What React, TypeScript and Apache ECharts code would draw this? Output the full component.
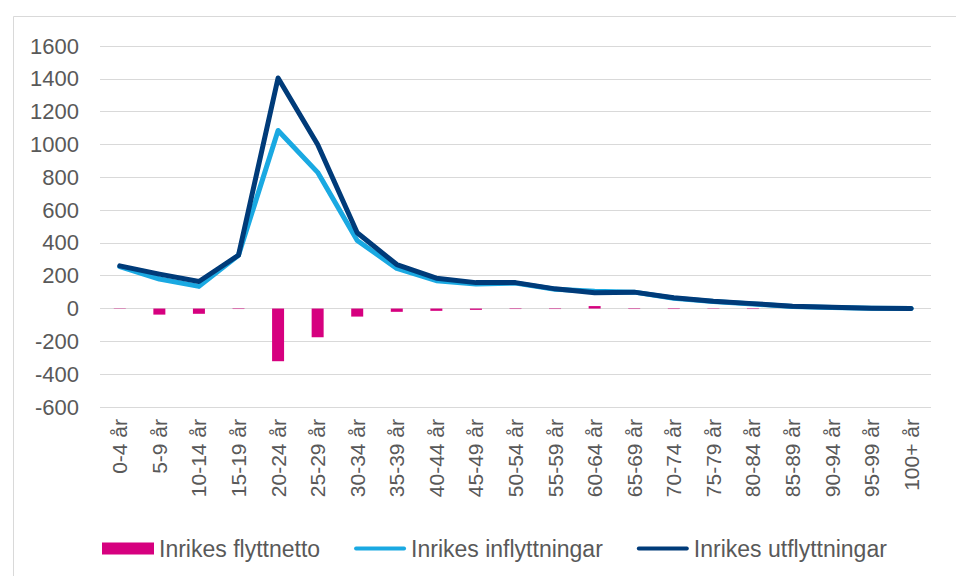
import React, { useEffect, useRef } from "react";
import * as echarts from "echarts";

const categories = [
  "0-4 år", "5-9 år", "10-14 år", "15-19 år", "20-24 år", "25-29 år", "30-34 år",
  "35-39 år", "40-44 år", "45-49 år", "50-54 år", "55-59 år", "60-64 år", "65-69 år",
  "70-74 år", "75-79 år", "80-84 år", "85-89 år", "90-94 år", "95-99 år", "100+ år",
];
const flyttnetto = [-2, -37, -32, -3, -321, -175, -49, -20, -14, -8, -3, -3, 15, -3, -3, -2, -3, 0, 0, 0, 0];
const inflyttningar = [255, 180, 135, 325, 1085, 830, 415, 245, 170, 150, 155, 118, 105, 100, 63, 43, 28, 13, 7, 2, 0];
const utflyttningar = [260, 210, 165, 325, 1405, 1000, 462, 268, 185, 158, 158, 120, 96, 100, 66, 45, 30, 14, 8, 2, 0];
const yTicks = { min: -600, max: 1600, interval: 200 };

const FONT = "'Liberation Sans', Arial, sans-serif";
const TEXT = "#595959";
const LINE_ICON = "path://M2,0 L52,0 A2,2 0 0 1 52,4 L2,4 A2,2 0 0 1 2,0 Z";

export default function App() {
  const ref = useRef<HTMLDivElement>(null);
  useEffect(() => {
    if (!ref.current) return;
    const chart = echarts.init(ref.current, null, { renderer: "svg" });
    chart.setOption({
      animation: false,
      backgroundColor: "#ffffff",
      textStyle: { fontFamily: FONT },
      graphic: [
        {
          type: "rect",
          shape: { x: 13.5, y: 16.5, width: 1000, height: 1000 },
          style: { fill: "none", stroke: "#d9d9d9", lineWidth: 1 },
          silent: true,
        },
      ],
      grid: { left: 100, right: 25, top: 46, bottom: 169, containLabel: false },
      legend: {
        left: 97,
        top: 532,
        itemWidth: 52,
        itemHeight: 12,
        itemGap: 34,
        symbolKeepAspect: true,
        textStyle: { color: TEXT, fontSize: 23, fontFamily: FONT },
        data: [
          { name: "Inrikes flyttnetto", icon: "rect" },
          { name: "Inrikes inflyttningar", icon: LINE_ICON },
          { name: "Inrikes utflyttningar", icon: LINE_ICON },
        ],
      },
      xAxis: {
        type: "category",
        data: categories,
        axisLine: { show: false },
        axisTick: { show: false },
        axisLabel: {
          rotate: 90,
          interval: 0,
          margin: 12,
          color: TEXT,
          fontSize: 21,
          fontFamily: FONT,
        },
      },
      yAxis: {
        type: "value",
        min: yTicks.min,
        max: yTicks.max,
        interval: yTicks.interval,
        axisLine: { show: false },
        axisTick: { show: false },
        axisLabel: {
          color: TEXT,
          fontSize: 22,
          margin: 21,
          fontFamily: FONT,
          formatter: (v: number) => String(v),
        },
        splitLine: { lineStyle: { color: "#d9d9d9", width: 1 } },
      },
      series: [
        {
          name: "Inrikes flyttnetto",
          type: "bar",
          data: flyttnetto,
          barWidth: 12,
          itemStyle: { color: "#d6007f" },
        },
        {
          name: "Inrikes inflyttningar",
          type: "line",
          data: inflyttningar,
          symbol: "none",
          lineStyle: { color: "#1aa9e2", width: 5, join: "round", cap: "round" },
          itemStyle: { color: "#1aa9e2" },
        },
        {
          name: "Inrikes utflyttningar",
          type: "line",
          data: utflyttningar,
          symbol: "none",
          lineStyle: { color: "#003b79", width: 5, join: "round", cap: "round" },
          itemStyle: { color: "#003b79" },
        },
      ],
    });
    return () => chart.dispose();
  }, []);
  return (
    <div
      ref={ref}
      style={{ position: "fixed", left: 0, top: 0, width: 956, height: 576 }}
    />
  );
}
